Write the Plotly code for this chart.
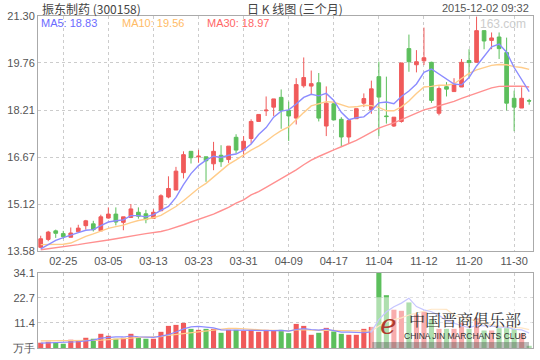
import plotly.graph_objects as go

# ---------------- data ----------------
dates = ["02-13", "02-16", "02-17", "02-25", "02-26", "02-27", "03-02", "03-03", "03-04", "03-05",
         "03-06", "03-09", "03-10", "03-11", "03-12", "03-13", "03-16", "03-17", "03-18", "03-19",
         "03-20", "03-23", "03-24", "03-25", "03-26", "03-27", "03-30", "03-31", "04-01", "04-02",
         "04-03", "04-07", "04-08", "04-09", "04-10", "04-13", "04-14", "04-15", "04-16", "04-17",
         "04-20", "04-21", "04-22", "04-23", "04-24", "11-04", "11-05", "11-06", "11-09", "11-10",
         "11-11", "11-12", "11-13", "11-16", "11-17", "11-18", "11-19", "11-20", "11-23", "11-24",
         "11-25", "11-26", "11-27", "11-30", "12-01", "12-02"]

opens = [13.71, 13.97, 14.25, 14.16, 14.04, 14.22, 14.42, 14.48, 14.25, 14.67,
         14.80, 14.53, 14.69, 14.86, 14.81, 14.66, 14.91, 15.36, 15.59, 16.16,
         16.86, 16.68, 16.68, 16.45, 16.73, 16.59, 17.32, 16.90, 17.28, 17.84,
         18.19, 18.31, 18.63, 18.20, 17.95, 19.01, 19.00, 19.11, 17.69, 18.42,
         17.91, 17.33, 17.93, 18.44, 18.23, 19.31, 18.02, 17.69, 17.84, 20.23,
         19.70, 19.83, 19.78, 18.11, 18.98, 18.82, 18.97, 19.84, 19.78, 20.82,
         20.50, 20.61, 20.10, 18.60, 18.28, 18.52]
highs = [14.09, 14.25, 14.29, 14.25, 14.36, 14.45, 14.61, 14.58, 14.78, 15.02,
         15.02, 14.71, 15.13, 15.02, 14.94, 14.96, 15.45, 16.04, 16.35, 16.86,
         16.86, 16.91, 16.68, 17.17, 17.06, 17.03, 17.42, 17.36, 17.91, 18.07,
         18.66, 18.58, 18.89, 18.49, 19.26, 19.94, 19.51, 19.43, 18.99, 18.49,
         17.98, 17.87, 18.26, 18.76, 19.18, 19.80, 19.31, 17.98, 19.76, 20.69,
         20.18, 20.92, 19.80, 18.99, 19.13, 19.26, 19.89, 20.21, 21.28, 20.82,
         20.76, 20.76, 20.59, 18.85, 18.96, 18.58]
lows = [13.69, 13.91, 14.02, 13.99, 14.04, 14.22, 14.29, 14.23, 14.25, 14.65,
        14.43, 14.27, 14.69, 14.65, 14.50, 14.66, 14.91, 15.32, 15.59, 15.97,
        16.46, 16.49, 15.86, 16.24, 16.35, 16.48, 16.79, 16.68, 17.11, 17.84,
        18.02, 18.02, 17.60, 17.20, 17.74, 18.95, 18.71, 17.84, 17.36, 17.89,
        17.01, 17.11, 17.93, 18.31, 18.09, 17.36, 17.77, 17.66, 17.80, 19.47,
        19.45, 19.69, 18.45, 18.04, 18.66, 18.82, 18.97, 19.29, 19.78, 20.21,
        20.21, 19.89, 18.20, 17.52, 18.28, 18.39]
closes = [13.99, 14.21, 14.17, 14.06, 14.18, 14.34, 14.58, 14.29, 14.71, 14.80,
          14.54, 14.71, 14.97, 14.73, 14.62, 14.86, 15.40, 15.64, 16.21, 16.75,
          16.65, 16.70, 16.55, 16.86, 16.52, 17.03, 16.90, 17.19, 17.84, 18.07,
          18.21, 18.58, 18.20, 18.02, 19.05, 19.28, 19.08, 17.95, 18.44, 17.89,
          17.33, 17.87, 18.26, 18.59, 18.91, 18.64, 18.00, 17.98, 19.76, 19.80,
          19.80, 19.93, 18.53, 18.92, 18.90, 19.05, 19.78, 19.77, 20.82, 20.48,
          20.58, 20.23, 18.44, 18.31, 18.60, 18.51]

ma5 = [13.66, 13.80, 13.94, 14.03,
       14.12, 14.19, 14.27, 14.29, 14.42, 14.54, 14.58, 14.61, 14.75, 14.75,
       14.71, 14.78, 14.92, 15.05, 15.35, 15.77, 16.13, 16.39, 16.57, 16.70,
       16.66, 16.73, 16.77, 16.90, 17.10, 17.41, 17.64, 17.98, 18.18, 18.22,
       18.41, 18.63, 18.73, 18.68, 18.76, 18.53, 18.14, 17.90, 17.96, 17.99,
       18.19, 18.45, 18.48, 18.42, 18.66, 18.84, 19.07, 19.45, 19.56, 19.40,
       19.22, 19.07, 19.04, 19.28, 19.66, 19.98, 20.29, 20.38, 20.11, 19.61,
       19.23, 18.82]
ma10 = [13.80, 13.80, 13.80, 13.81, 13.85, 13.97, 14.07, 14.15, 14.24,
        14.33, 14.39, 14.44, 14.52, 14.59, 14.63, 14.68, 14.76, 14.90, 15.05,
        15.24, 15.45, 15.65, 15.81, 16.02, 16.21, 16.43, 16.58, 16.74, 16.90,
        17.03, 17.19, 17.38, 17.54, 17.66, 17.91, 18.13, 18.35, 18.43, 18.49,
        18.47, 18.38, 18.31, 18.32, 18.37, 18.36, 18.30, 18.19, 18.19, 18.32,
        18.51, 18.76, 18.97, 18.99, 19.03, 19.03, 19.07, 19.25, 19.42, 19.53,
        19.60, 19.68, 19.71, 19.70, 19.64, 19.61, 19.55]
ma30 = [13.63, 13.66, 13.69, 13.72, 13.76, 13.80, 13.84, 13.87, 13.91, 13.95,
        13.99, 14.04, 14.08, 14.12, 14.16, 14.19, 14.23, 14.29, 14.36, 14.45,
        14.54, 14.62, 14.70, 14.80, 14.91, 15.02, 15.16, 15.27, 15.43,
        15.54, 15.68, 15.82, 15.96, 16.09, 16.25, 16.42, 16.57, 16.69, 16.81,
        16.91, 17.01, 17.11, 17.22, 17.35, 17.49, 17.62, 17.71, 17.79, 17.90,
        18.01, 18.11, 18.22, 18.28, 18.35, 18.43, 18.50, 18.60, 18.68, 18.78,
        18.86, 18.94, 18.99, 19.00, 19.01, 19.00, 18.97]

volumes = [2.4, 2.85, 2.4, 1.95, 3.75, 3.3, 4.65, 4.2, 6.45, 5.55,
           4.2, 4.65, 6.45, 4.65, 4.2, 4.2, 7.35, 10.05, 10.5, 11.4,
           8.7, 8.25, 8.7, 8.7, 6.9, 8.25, 8.25, 7.8, 8.25, 7.35,
           8.25, 7.8, 8.25, 6.75, 10.95, 10.05, 6.0, 6.9, 9.15, 7.5,
           6.45, 6.0, 6.0, 8.7, 9.6, 34.1, 24.0, 17.4, 16.9, 20.7,
           15.2, 16.5, 13.0, 8.7, 8.7, 8.7, 11.5, 8.7, 13.5, 7.95,
           7.95, 9.0, 9.0, 8.7, 6.5, 1.0]
vol_ma5 = [2.2, 2.3, 2.4, 2.4,
           2.67, 2.85, 3.21, 3.57, 4.47, 4.83, 5.01, 5.01, 5.46, 5.10,
           4.83, 4.83, 5.37, 6.09, 7.26, 8.70, 9.60, 9.78, 9.51, 9.15,
           8.25, 8.16, 8.16, 7.98, 7.89, 7.98, 7.98, 7.89, 7.98, 7.68,
           8.40, 8.76, 8.40, 8.13, 8.61, 7.92, 7.20, 7.20, 7.02, 6.93,
           7.35, 12.88, 16.48, 18.76, 20.40, 22.62, 18.84, 17.34, 16.46, 14.82,
           12.42, 11.12, 10.12, 9.26, 10.22, 10.07, 9.92, 9.42, 9.48, 8.52,
           8.23, 6.84]
vol_ma10 = [3.2, 3.2, 3.2, 3.2, 3.2, 3.3, 3.4, 3.5, 3.6,
            3.75, 3.93, 4.11, 4.52, 4.79, 4.83, 4.92, 5.19, 5.78, 6.18,
            6.77, 7.22, 7.58, 7.80, 8.21, 8.48, 8.88, 8.97, 8.75, 8.52,
            8.12, 8.07, 8.03, 7.98, 7.79, 8.19, 8.37, 8.15, 8.06, 8.15,
            8.16, 7.98, 7.80, 7.58, 7.77, 7.64, 10.04, 11.84, 12.89, 13.67,
            14.99, 15.86, 16.91, 17.61, 17.61, 17.52, 14.98, 13.73, 12.86, 12.52,
            11.25, 10.52, 9.77, 9.37, 9.37, 9.15, 8.38]

tick_dates = ["02-25", "03-05", "03-13", "03-23", "03-31", "04-09", "04-17",
              "11-04", "11-12", "11-20", "11-30"]
price_ticks = [13.58, 15.12, 16.67, 18.21, 19.76, 21.30]
vol_ticks = [0, 11.37, 22.73, 34.1]
vol_tick_text = ["万手", "11.4", "22.7", "34.1"]

# ---------------- styling ----------------
RED = "#f05a5a"
GREEN = "#5cbf5c"
C_MA5 = "#8c8cff"
C_MA10 = "#ffcc8a"
C_MA30 = "#ff9090"
GRID = "#cccccc"
BORDER = "#aaaaaa"
TXT = "#555555"
FONT = "Liberation Sans, Arial, sans-serif"
CJK = "Noto Sans CJK SC, sans-serif"

W, H = 540, 360
L, R, T, B = 38, 6, 16, 10
PW, PH = W - L - R, H - T - B


def px(x):
    return (x - L) / PW


def py(y):
    return (H - B - y) / PH


fig = go.Figure()

fig.add_trace(go.Candlestick(
    x=dates, open=opens, high=highs, low=lows, close=closes,
    increasing=dict(line=dict(color=RED, width=1), fillcolor=RED),
    decreasing=dict(line=dict(color=GREEN, width=1), fillcolor=GREEN),
    whiskerwidth=0, xaxis="x", yaxis="y", showlegend=False, hoverinfo="skip"))

for vals, col in [(ma30, C_MA30), (ma10, C_MA10), (ma5, C_MA5)]:
    fig.add_trace(go.Scatter(x=dates, y=vals, mode="lines",
                             line=dict(color=col, width=1.4),
                             xaxis="x", yaxis="y", showlegend=False, hoverinfo="skip"))

bar_colors = [RED if c >= o else GREEN for o, c in zip(opens, closes)]
fig.add_trace(go.Bar(x=dates, y=volumes, marker=dict(color=bar_colors, line=dict(width=0)),
                     xaxis="x2", yaxis="y2", showlegend=False, hoverinfo="skip"))
for vals, col in [(vol_ma10, C_MA10), (vol_ma5, C_MA5)]:
    fig.add_trace(go.Scatter(x=dates, y=vals, mode="lines",
                             line=dict(color=col, width=1.2),
                             xaxis="x2", yaxis="y2", showlegend=False, hoverinfo="skip"))

axis_common = dict(showline=True, mirror=True, linecolor=BORDER, linewidth=1,
                   showgrid=True, gridcolor=GRID, griddash="3px,3px", gridwidth=1,
                   zeroline=False, ticks="", fixedrange=True,
                   tickfont=dict(family=FONT, size=11, color=TXT))

xr = [-0.36, 65.51]
price_dom = [py(252.7), 1.0]
vol_dom = [0.0, py(274.5)]

fig.update_layout(
    width=W, height=H,
    margin=dict(l=L, r=R, t=T, b=B),
    paper_bgcolor="white", plot_bgcolor="white",
    bargap=0.32,
    xaxis=dict(type="category", categoryorder="array", categoryarray=dates,
               range=xr, domain=[0, 1], anchor="y",
               tickmode="array", tickvals=tick_dates, ticktext=tick_dates,
               rangeslider=dict(visible=False), **axis_common),
    yaxis=dict(domain=price_dom, range=[13.58, 21.30], anchor="x",
               tickmode="array", tickvals=price_ticks,
               ticktext=[f"{v:.2f}" for v in price_ticks], **axis_common),
    xaxis2=dict(type="category", categoryorder="array", categoryarray=dates,
                range=xr, domain=[0, 1], anchor="y2", matches="x",
                tickmode="array", tickvals=tick_dates, showticklabels=False,
                **axis_common),
    yaxis2=dict(domain=vol_dom, range=[0, 34.1], anchor="x2",
                tickmode="array", tickvals=vol_ticks, ticktext=vol_tick_text,
                **axis_common),
)

ann = []
ann.append(dict(text="振东制药 (300158)", x=px(40), y=py(8), xanchor="left", yanchor="middle",
                font=dict(family=CJK, size=12, color="#444444")))
ann.append(dict(text="日 K 线图 (三个月)", x=px(296), y=py(8), xanchor="center", yanchor="middle",
                font=dict(family=CJK, size=12, color="#444444")))
ann.append(dict(text="2015-12-02 09:32", x=px(532), y=py(8), xanchor="right", yanchor="middle",
                font=dict(family=FONT, size=11, color="#555555")))
ann.append(dict(text="MA5: 18.83", x=px(39.5), y=py(23), xanchor="left", yanchor="middle",
                font=dict(family=FONT, size=11, color="#6b6bff")))
ann.append(dict(text="MA10: 19.56", x=px(120), y=py(23), xanchor="left", yanchor="middle",
                font=dict(family=FONT, size=11, color="#ffbb66")))
ann.append(dict(text="MA30: 18.97", x=px(205.5), y=py(23), xanchor="left", yanchor="middle",
                font=dict(family=FONT, size=11, color="#ff6666")))
ann.append(dict(text="163.com", x=px(529), y=py(24), xanchor="right", yanchor="middle",
                font=dict(family=FONT, size=12, color="#cccccc")))
# watermark in the volume panel
ann.append(dict(text="中国晋商俱乐部", x=px(466), y=py(321), xanchor="center", yanchor="middle",
                font=dict(family="Noto Serif CJK SC, " + CJK, size=16, color="#333333")))
ann.append(dict(text="CHINA JIN MARCHANTS CLUB", x=px(466), y=py(338), xanchor="center", yanchor="middle",
                font=dict(family=FONT, size=8.5, color="#333333")))
ann.append(dict(text="<i>e</i>", x=px(389), y=py(326), xanchor="center", yanchor="middle",
                font=dict(family="DejaVu Serif, serif", size=28, color="#b03a2e")))
for a in ann:
    a.update(xref="paper", yref="paper", showarrow=False)
fig.update_layout(annotations=ann)

fig.update_layout(shapes=[
    dict(type="rect", xref="paper", yref="paper", x0=px(371), x1=px(533), y0=py(350), y1=py(299),
         fillcolor="white", opacity=0.5, line=dict(width=0), layer="above"),
    dict(type="rect", xref="paper", yref="paper", x0=px(373), x1=px(530), y0=py(350), y1=py(344),
         fillcolor="#444444", opacity=0.35, line=dict(width=0), layer="above"),
])

fig.write_html("out.html", config={"displayModeBar": False, "staticPlot": True})

# remove the default page margin so the 540x360 figure fills the window exactly
with open("out.html", "r", encoding="utf-8") as f:
    html = f.read()
html = html.replace("<head>", "<head><style>html,body{margin:0;padding:0;overflow:hidden;}</style>", 1)
with open("out.html", "w", encoding="utf-8") as f:
    f.write(html)
